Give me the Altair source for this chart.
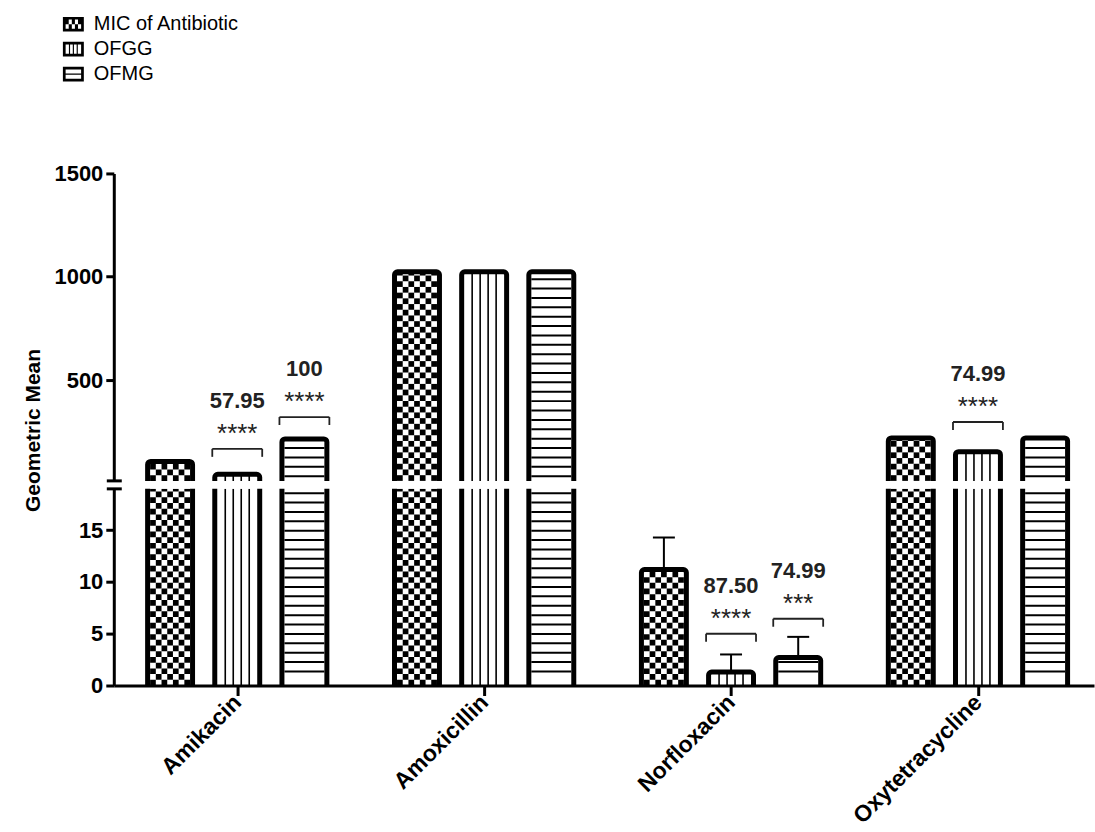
import json
import math

import altair as alt
import pandas as pd

# ---------------------------------------------------------------- data
categories = ["Amikacin", "Amoxicillin", "Norfloxacin", "Oxytetracycline"]
series_names = ["MIC of Antibiotic", "OFGG", "OFMG"]

mic_values = [106, 1024, 11.2, 220]
ofgg_values = [44, 1024, 1.3, 153]
ofmg_values = [215, 1024, 2.7, 220]

# upper end of the SD whisker (None = no whisker drawn)
mic_err_top = [None, None, 14.3, None]
ofgg_err_top = [None, None, 3.0, None]
ofmg_err_top = [None, None, 4.7, None]

# significance brackets: bar, % change, stars, bracket level (axis units)
annot_category = ["Amikacin", "Amikacin", "Norfloxacin", "Norfloxacin", "Oxytetracycline"]
annot_series = ["OFGG", "OFMG", "OFGG", "OFMG", "OFGG"]
annot_percent = ["57.95", "100", "87.50", "74.99", "74.99"]
annot_stars = ["****", "****", "****", "***", "****"]
annot_level = [167, 321, 5.0, 6.45, 297]

upper_ticks = [500, 1000, 1500]
lower_ticks = [0, 5, 10, 15]

# ---------------------------------------------------------------- layout
FONT = "Liberation Sans"
X_DOMAIN = [-0.5, 3.47]
PLOT_W = 982
UPPER = {"domain": [12, 1500], "height": 308, "ticks": upper_ticks}
LOWER = {"domain": [0, 19], "height": 197, "ticks": lower_ticks}
GROUP_STEP = 0.272
BAR_HALF = 0.091
X_PER_PX = (X_DOMAIN[1] - X_DOMAIN[0]) / PLOT_W
INSET = 2.5 * X_PER_PX
CHECK_COLS = 7
CHECK_PX = 40 / 7
HLINE_PX = 9.4
CAP_HALF = 11 * X_PER_PX

values = {series_names[0]: mic_values, series_names[1]: ofgg_values, series_names[2]: ofmg_values}
err_tops = {series_names[0]: mic_err_top, series_names[1]: ofgg_err_top, series_names[2]: ofmg_err_top}

rows = []
for i, cat in enumerate(categories):
    for j, s in enumerate(series_names):
        xc = i + (j - 1) * GROUP_STEP
        rows.append({
            "category": cat, "series": s, "xc": xc,
            "x0": xc - BAR_HALF, "x1": xc + BAR_HALF,
            "value": values[s][i], "err": err_tops[s][i],
        })
bars = pd.DataFrame(rows)

ann = pd.DataFrame({
    "category": annot_category, "series": annot_series,
    "percent": annot_percent, "stars": annot_stars, "level": annot_level,
}).merge(bars, on=["category", "series"])


# ---------------------------------------------------------------- legend icons
def box(x0, y0, x1, y1, clockwise=True):
    if clockwise:
        return f"M{x0:.3f},{y0:.3f}L{x1:.3f},{y0:.3f}L{x1:.3f},{y1:.3f}L{x0:.3f},{y1:.3f}Z"
    return f"M{x0:.3f},{y0:.3f}L{x0:.3f},{y1:.3f}L{x1:.3f},{y1:.3f}L{x1:.3f},{y0:.3f}Z"


def icon(kind):
    hx, hy, t = 1.0, 0.7, 0.26
    ix, iy = hx - t, hy - t
    p = box(-hx, -hy, hx, hy) + box(-ix, -iy, ix, iy, clockwise=False)
    if kind == "check":
        cols, rws = 5, 2
        cw, rh = 2 * ix / cols, 2 * iy / rws
        for r in range(rws):
            for c in range(cols):
                if (r + c) % 2 == 0:
                    p += box(-ix + c * cw, -iy + r * rh, -ix + (c + 1) * cw, -iy + (r + 1) * rh)
    elif kind == "vert":
        for xv in (-0.37, 0.0, 0.37):
            p += box(xv - 0.055, -iy, xv + 0.055, iy)
    else:
        p += box(-ix, -0.055, ix, 0.055)
    return p


icon_paths = [icon("check"), icon("vert"), icon("horiz")]

label_expr = json.dumps(categories) + "[datum.value]"


def panel(cfg, bottom):
    lo, hi = cfg["domain"]
    ppu = cfg["height"] / (hi - lo)
    vis = bars[bars.value > lo].copy()
    vis["base"] = lo - 10 / ppu

    cells, vlines, hlines = [], [], []
    for r in vis.itertuples():
        top = min(r.value, hi)
        ix0, ix1 = r.x0 + INSET, r.x1 - INSET
        if r.series == series_names[0]:
            step = CHECK_PX / ppu
            cw = (ix1 - ix0) / CHECK_COLS
            for k in range(math.ceil((top - lo) / step)):
                y0 = lo + k * step
                y1 = min(y0 + step, top)
                for c in range(CHECK_COLS):
                    if (k + c) % 2 == 0:
                        cells.append({"x": ix0 + c * cw, "x2": ix0 + (c + 1) * cw, "y": y0, "y2": y1})
        elif r.series == series_names[1]:
            for k in range(1, 5):
                vlines.append({"x": ix0 + k * (ix1 - ix0) / 5, "y": lo, "y2": top})
        else:
            step = HLINE_PX / ppu
            yv = lo + (1.5 if bottom else 0.5) * step
            while yv < top - 0.4 * step:
                hlines.append({"x": ix0, "x2": ix1, "y": yv})
                yv += step

    xscale = alt.Scale(domain=X_DOMAIN, nice=False, zero=False)
    yscale = alt.Scale(domain=[lo, hi], nice=False, zero=False)
    if bottom:
        xaxis = alt.Axis(values=[0, 1, 2, 3], labelExpr=label_expr, title=None,
                         labelAngle=-45, labelAlign="right", labelBaseline="middle",
                         labelFontSize=23, tickSize=10, labelPadding=3)
        yaxis = alt.Axis(values=cfg["ticks"], format="d", title=None,
                         labelFontSize=22, tickSize=8, labelPadding=3)
    else:
        xaxis = None
        yaxis = alt.Axis(values=cfg["ticks"], format="d", title="Geometric Mean",
                         titleX=-80, titleY=257, titleAngle=270, titleAlign="center",
                         titleBaseline="middle", titleFontSize=21, titleFontWeight="bold",
                         titleFont=FONT, titleColor="black",
                         labelFontSize=22, tickSize=8, labelPadding=3)

    def X(f):
        return alt.X(f"{f}:Q", scale=xscale, axis=xaxis)

    def Y(f):
        return alt.Y(f"{f}:Q", scale=yscale, axis=yaxis)

    layers = [
        alt.Chart(pd.DataFrame(cells)).mark_rect(color="black", clip=True)
        .encode(x=X("x"), x2="x2", y=Y("y"), y2="y2"),
        alt.Chart(pd.DataFrame(vlines)).mark_rule(color="black", strokeWidth=1.6, clip=True)
        .encode(x=X("x"), y=Y("y"), y2="y2"),
        alt.Chart(pd.DataFrame(hlines)).mark_rule(color="black", strokeWidth=2, clip=True)
        .encode(x=X("x"), x2="x2", y=Y("y")),
        alt.Chart(vis).mark_rect(fill="white", fillOpacity=0, stroke="black", strokeWidth=5,
                                 cornerRadius=3, clip=True)
        .encode(x=X("x0"), x2="x1", y=Y("value"), y2="base"),
    ]

    # SD whiskers
    errs = vis.dropna(subset=["err"])
    errs = errs[errs.err <= hi].copy()
    if len(errs):
        errs["c0"] = errs.xc - CAP_HALF
        errs["c1"] = errs.xc + CAP_HALF
        layers += [
            alt.Chart(errs).mark_rule(color="black", strokeWidth=2)
            .encode(x=X("xc"), y=Y("value"), y2="err"),
            alt.Chart(errs).mark_rule(color="black", strokeWidth=2)
            .encode(x=X("c0"), x2="c1", y=Y("err")),
        ]

    # significance brackets and labels
    a = ann[(ann.level > lo) & (ann.level < hi)].copy()
    if len(a):
        a["b0"] = a.x0 - INSET
        a["b1"] = a.x1 + INSET
        a["foot"] = a.level - 8 / ppu
        feet = pd.concat([
            a[["b0", "level", "foot"]].rename(columns={"b0": "bx"}),
            a[["b1", "level", "foot"]].rename(columns={"b1": "bx"}),
        ])
        layers += [
            alt.Chart(a).mark_rule(color="#222222", strokeWidth=1.8)
            .encode(x=X("b0"), x2="b1", y=Y("level")),
            alt.Chart(feet).mark_rule(color="#222222", strokeWidth=1.8)
            .encode(x=X("bx"), y=Y("level"), y2="foot"),
            alt.Chart(a).mark_text(font=FONT, fontSize=26, color="#222222",
                                   baseline="alphabetic", dy=-7)
            .encode(x=X("xc"), y=Y("level"), text="stars:N"),
            alt.Chart(a).mark_text(font=FONT, fontSize=22, fontWeight="bold", color="#222222",
                                   baseline="alphabetic", dy=-41)
            .encode(x=X("xc"), y=Y("level"), text="percent:N"),
        ]

    # axis break marks
    bx0 = X_DOMAIN[0] - 7 * X_PER_PX
    bx1 = X_DOMAIN[0] + 8 * X_PER_PX
    layers.append(
        alt.Chart(pd.DataFrame({"x": [bx0], "x2": [bx1], "y": [hi if bottom else lo]}))
        .mark_rule(color="black", strokeWidth=3)
        .encode(x=X("x"), x2="x2", y=Y("y"))
    )

    if not bottom:
        layers.append(
            alt.Chart(pd.DataFrame({"series": series_names, "x": 0.0, "y": 800.0}))
            .mark_point(filled=True, color="black", opacity=0)
            .encode(
                x=X("x"), y=Y("y"),
                shape=alt.Shape(
                    "series:N",
                    scale=alt.Scale(domain=series_names, range=icon_paths),
                    legend=alt.Legend(
                        orient="none", legendX=-51, legendY=-160, title=None,
                        padding=0, symbolSize=440, symbolOpacity=1,
                        symbolFillColor="black", symbolStrokeWidth=0,
                        labelFont=FONT, labelFontSize=20, labelColor="black",
                        labelOffset=10, rowPadding=4, labelLimit=400,
                    ),
                ),
            )
        )

    return alt.layer(*layers).properties(width=PLOT_W, height=cfg["height"])


upper = panel(UPPER, bottom=False)
lower = panel(LOWER, bottom=True)

chart = (
    alt.vconcat(upper, lower, spacing=8, bounds="flush")
    .properties(padding={"left": 22, "top": 13, "right": 0, "bottom": 0})
    .configure_view(stroke="transparent")
    .configure_axis(
        grid=False,
        labelFont=FONT, labelFontWeight="bold", labelColor="black",
        domainColor="black", domainWidth=3, tickColor="black", tickWidth=3,
    )
)

chart.save("out.html", embed_options={"renderer": "svg", "actions": False})
